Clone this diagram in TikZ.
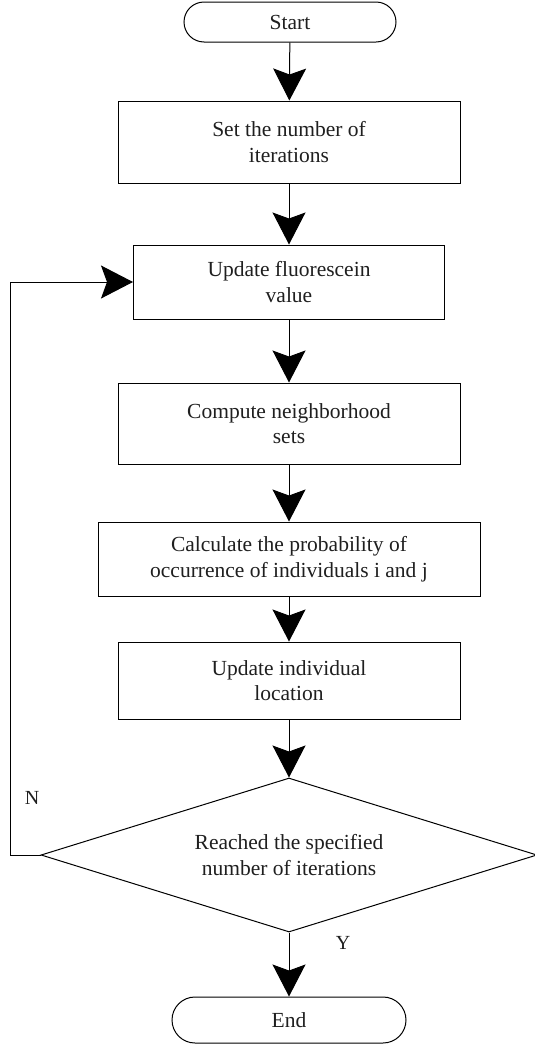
\documentclass[tikz,border=0pt]{standalone}
\usepackage{fontspec}
\setmainfont{Liberation Serif}
\usetikzlibrary{arrows.meta,shapes.geometric}
\begin{document}
\begin{tikzpicture}[x=1pt,y=-1pt,
  every node/.style={font=\fontsize{21.5}{25.5}\selectfont, text=black!88, align=center},
  procbox/.style={draw, line width=1pt, rectangle, inner sep=0pt},
  termbox/.style={draw, line width=1pt, rectangle, inner sep=0pt},
  decbox/.style={draw, line width=1pt, diamond, inner sep=0pt},
  flow/.style={line width=1pt, -{Stealth[length=32pt,width=33pt,inset=6pt]}},
  tag/.style={font=\fontsize{20}{22}\selectfont}]
\useasboundingbox (0,0) rectangle (535,1047);

% terminals, process steps and the decision
\node[termbox, rounded corners=20pt, minimum width=212pt, minimum height=40pt] (start) at (290,22) {Start};
\node[procbox, minimum width=342pt, minimum height=82pt] (iter) at (289,142) {Set the number of\\iterations};
\node[procbox, minimum width=311pt, minimum height=74pt] (fluor) at (289,282) {Update fluorescein\\value};
\node[procbox, minimum width=342pt, minimum height=81pt] (neigh) at (289,423.5) {Compute neighborhood\\sets};
\node[procbox, minimum width=382pt, minimum height=74pt] (prob) at (289,559) {Calculate the probability of\\occurrence of individuals i and j};
\node[procbox, minimum width=342pt, minimum height=77pt] (loc) at (289,680.5) {Update individual\\location};
\node[decbox, minimum width=496pt, minimum height=154pt] (check) at (289,855) {};
\node (checktext) at (check.center) {Reached the specified\\number of iterations};
\node[termbox, rounded corners=23pt, minimum width=234pt, minimum height=46pt] (stop) at (289,1020) {End};

% main flow
\draw[flow] (start) -- (iter);
\draw[flow] (iter) -- (fluor);
\draw[flow] (fluor) -- (neigh);
\draw[flow] (neigh) -- (prob);
\draw[flow] (prob) -- (loc);
\draw[flow] (loc) -- (check.north);
\draw[flow] (check.south) -- (stop);

% loop back when the iteration count is not reached
\coordinate (back) at (10,855);
\draw[flow] (check.west) -- (back) |- (fluor.west);

\node[tag] (no) at (32,798) {N};
\node[tag] (yes) at (343,943) {Y};
\end{tikzpicture}
\end{document}
